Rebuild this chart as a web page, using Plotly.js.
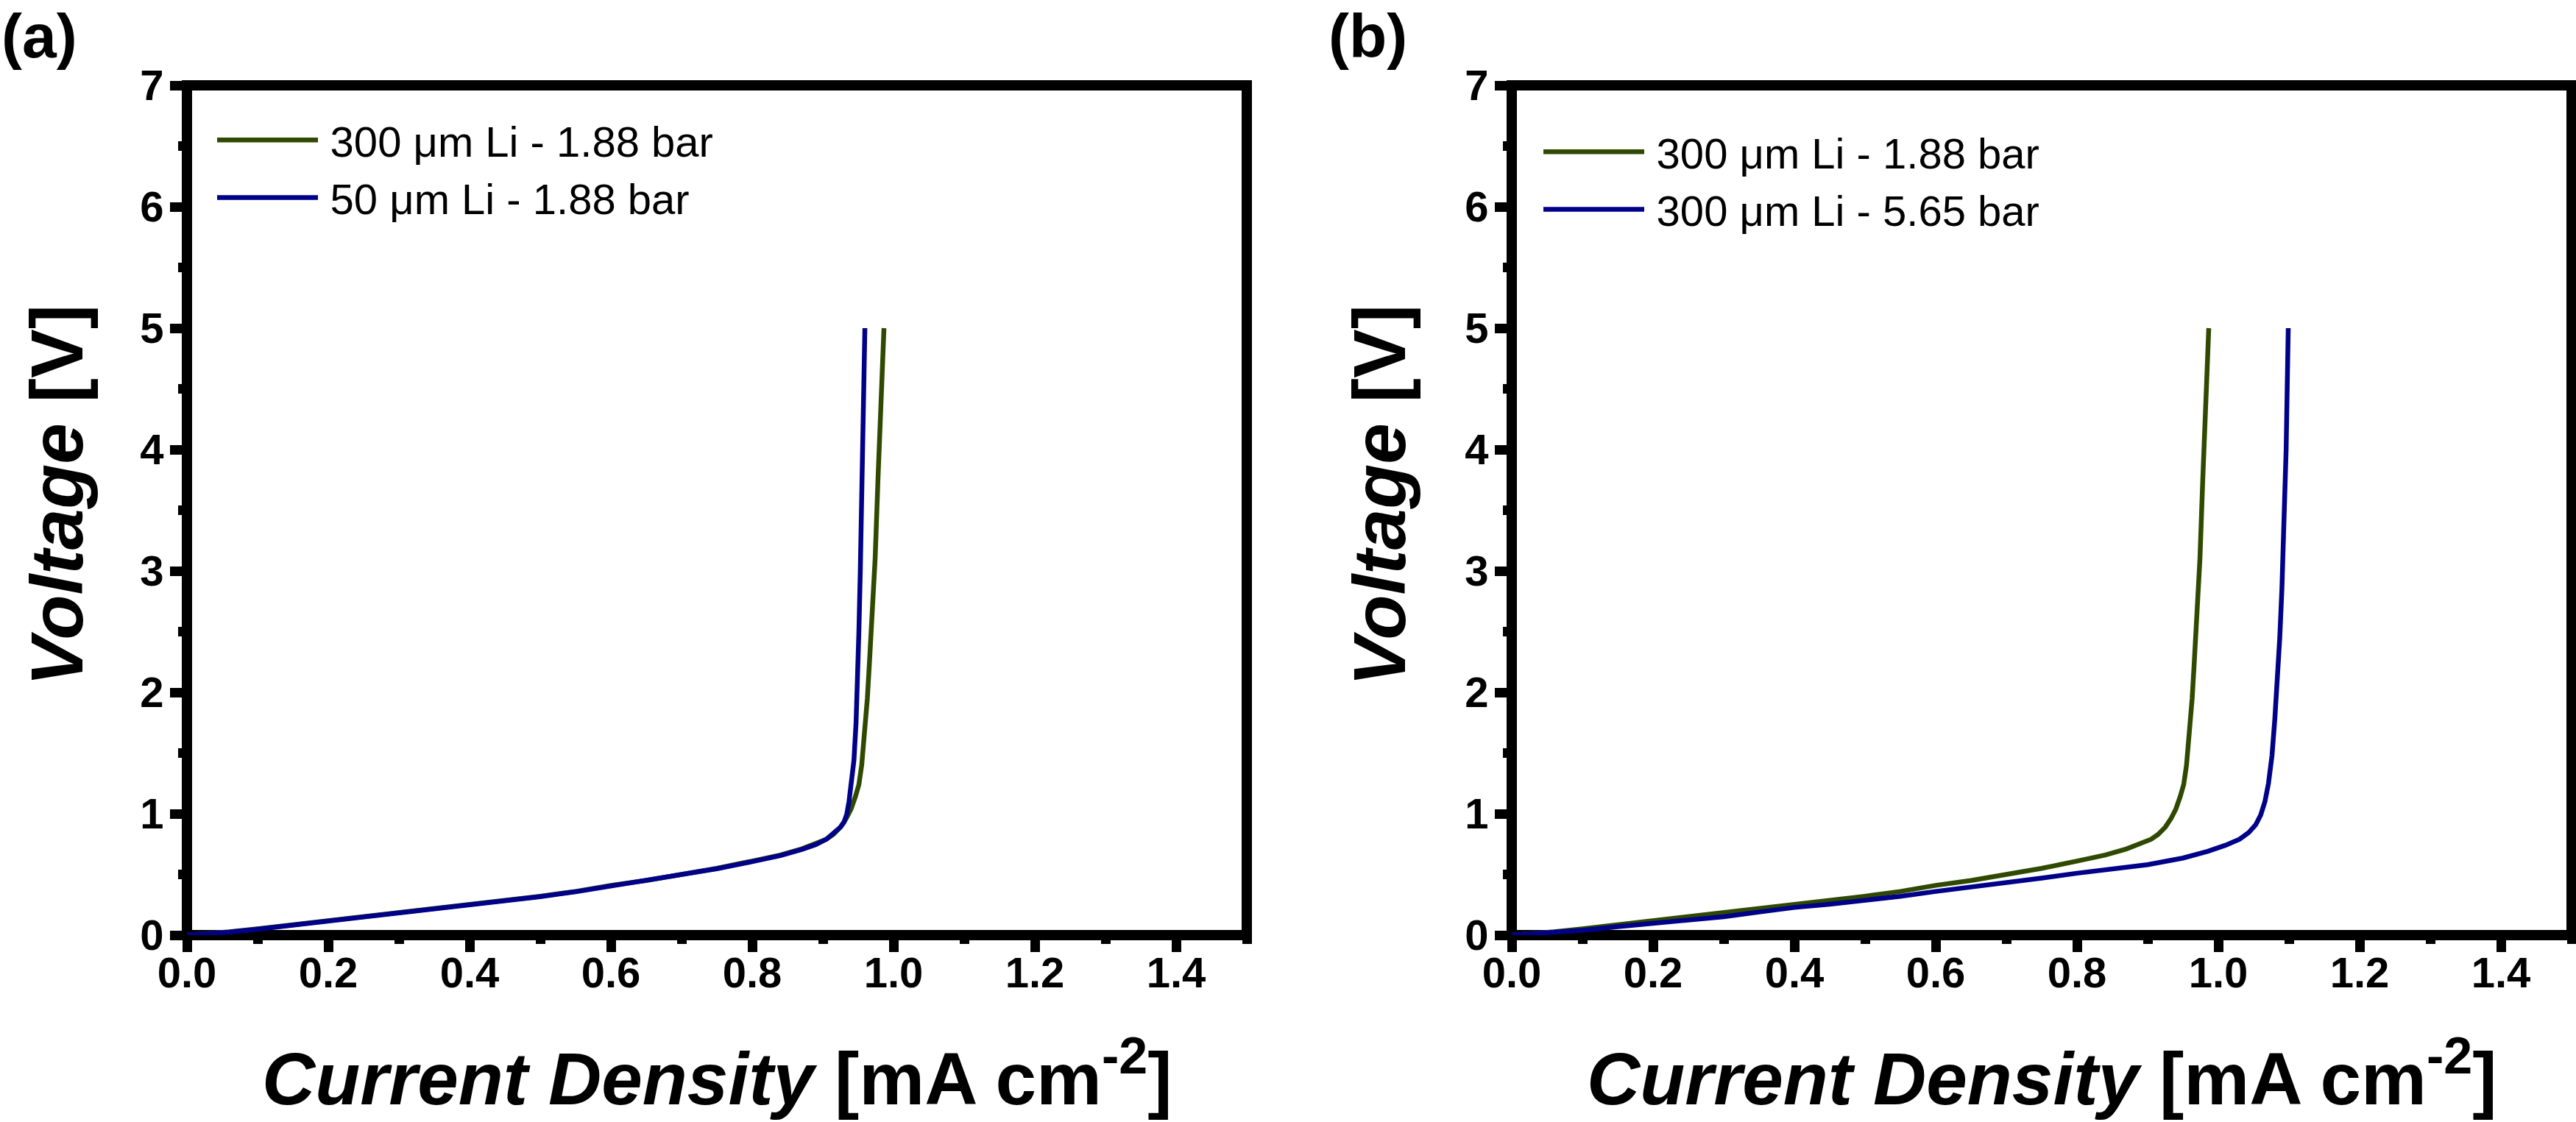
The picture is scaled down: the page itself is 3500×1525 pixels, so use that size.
<!DOCTYPE html>
<html>
<head>
<meta charset="utf-8">
<script src="https://cdn.plot.ly/plotly-3.0.1.min.js"></script>
<style>html,body{margin:0;padding:0;background:#fff;}</style>
</head>
<body>
<div id="chart" style="width:3500px;height:1525px;"></div>
<script>
// Linear sweep voltammetry: current density (mA cm^-2) vs. voltage (V)

// 300 µm Li at 1.88 bar (shown in both panels)
const j300_188 = [0, 0.03, 0.06, 0.10, 0.15, 0.20, 0.25, 0.30, 0.35, 0.40, 0.45, 0.50, 0.55, 0.60, 0.65, 0.70, 0.75, 0.80, 0.84, 0.87, 0.89, 0.905, 0.915, 0.925, 0.933, 0.940, 0.946, 0.951, 0.955, 0.959, 0.963, 0.966, 0.970, 0.974, 0.978, 0.982, 0.9865];
const v300_188 = [0, 0.012, 0.028, 0.052, 0.086, 0.117, 0.148, 0.180, 0.215, 0.250, 0.285, 0.320, 0.360, 0.410, 0.450, 0.500, 0.550, 0.610, 0.660, 0.710, 0.750, 0.790, 0.830, 0.890, 0.960, 1.04, 1.14, 1.24, 1.40, 1.64, 1.95, 2.25, 2.65, 3.10, 3.75, 4.35, 5.00];

// 50 µm Li at 1.88 bar
const j50_188 = [0, 0.03, 0.06, 0.10, 0.15, 0.20, 0.25, 0.30, 0.35, 0.40, 0.45, 0.50, 0.55, 0.60, 0.65, 0.70, 0.75, 0.80, 0.84, 0.87, 0.89, 0.905, 0.916, 0.925, 0.930, 0.934, 0.937, 0.941, 0.944, 0.947, 0.949, 0.951, 0.953, 0.955, 0.957, 0.9595];
const v50_188 = [0, 0.010, 0.025, 0.048, 0.082, 0.113, 0.145, 0.177, 0.212, 0.247, 0.282, 0.317, 0.357, 0.405, 0.447, 0.497, 0.547, 0.605, 0.655, 0.705, 0.745, 0.790, 0.840, 0.890, 0.930, 1.00, 1.10, 1.27, 1.44, 1.75, 2.05, 2.50, 3.00, 3.70, 4.35, 5.00];

// 300 µm Li at 5.65 bar
const j300_565 = [0, 0.03, 0.06, 0.10, 0.15, 0.20, 0.25, 0.30, 0.35, 0.40, 0.45, 0.50, 0.55, 0.60, 0.65, 0.70, 0.75, 0.80, 0.85, 0.90, 0.95, 0.985, 1.010, 1.030, 1.043, 1.053, 1.060, 1.066, 1.071, 1.076, 1.080, 1.084, 1.087, 1.090, 1.093, 1.096, 1.099];
const v300_565 = [0, 0.010, 0.022, 0.040, 0.070, 0.097, 0.125, 0.152, 0.190, 0.228, 0.255, 0.285, 0.320, 0.360, 0.395, 0.430, 0.470, 0.510, 0.545, 0.580, 0.635, 0.690, 0.740, 0.790, 0.845, 0.910, 0.990, 1.10, 1.25, 1.48, 1.78, 2.12, 2.45, 2.85, 3.35, 4.00, 5.00];

const legendA = ['300 \u03bcm Li - 1.88 bar', '50 \u03bcm Li - 1.88 bar'];
const legendB = ['300 \u03bcm Li - 1.88 bar', '300 \u03bcm Li - 5.65 bar'];

const xTicks = [0, 0.2, 0.4, 0.6, 0.8, 1.0, 1.2, 1.4];
const xTickText = ['0.0', '0.2', '0.4', '0.6', '0.8', '1.0', '1.2', '1.4'];
const yTicks = [0, 1, 2, 3, 4, 5, 6, 7];

const GREEN = '#2f4a00';
const BLUE = '#000088';
const W = 3500, H = 1525;
const FONT = 'Liberation Sans, Arial, Helvetica, sans-serif';

// plot-area pixel boxes of the two panels
const boxA = {l: 254, r: 1694, t: 116, b: 1271};
const boxB = {l: 2054, r: 3494, t: 116, b: 1271};

const xd = b => [b.l / W, b.r / W];
const yd = b => [(H - b.b) / H, (H - b.t) / H];

// a thin space keeps the legend text clear of its line sample
function line(x, y, name, color, xa, ya, legend) {
  return {x: x, y: y, name: '\u2009' + name, type: 'scatter', mode: 'lines',
          xaxis: xa, yaxis: ya, legend: legend,
          line: {color: color, width: 6.5}};
}

const traces = [
  line(j300_188, v300_188, legendA[0], GREEN, 'x', 'y', 'legend'),
  line(j50_188, v50_188, legendA[1], BLUE, 'x', 'y', 'legend'),
  line(j300_188, v300_188, legendB[0], GREEN, 'x2', 'y2', 'legend2'),
  line(j300_565, v300_565, legendB[1], BLUE, 'x2', 'y2', 'legend2')
];

const tickFont = {family: FONT, size: 58, color: '#000', weight: 'bold'};

function xAxis(box, anchor) {
  return {domain: xd(box), anchor: anchor, range: [0, 1.5],
          tickmode: 'array', tickvals: xTicks, ticktext: xTickText,
          ticks: 'outside', ticklen: 22, tickwidth: 13, tickcolor: '#000',
          minor: {dtick: 0.1, tick0: 0, ticks: 'outside', ticklen: 11, tickwidth: 13, tickcolor: '#000', showgrid: false},
          showline: false, zeroline: false, showgrid: false,
          tickfont: tickFont, ticklabelstandoff: -22, fixedrange: true};
}
function yAxis(box, anchor) {
  return {domain: yd(box), anchor: anchor, range: [0, 7],
          tickmode: 'array', tickvals: yTicks,
          ticks: 'outside', ticklen: 22, tickwidth: 13, tickcolor: '#000',
          minor: {dtick: 0.5, tick0: 0, ticks: 'outside', ticklen: 11, tickwidth: 13, tickcolor: '#000', showgrid: false},
          showline: false, zeroline: false, showgrid: false,
          tickfont: tickFont, ticklabelstandoff: -3, fixedrange: true};
}

function frame(xa, ya) {
  return {type: 'rect', xref: xa + ' domain', yref: ya + ' domain',
          x0: 0, x1: 1, y0: 0, y1: 1, line: {color: '#000', width: 14}, layer: 'below'};
}

const xTitle = '<b><i>Current Density</i> [mA cm<sup>-2</sup>]</b>';
const yTitle = '<b><i>Voltage</i> [V]</b>';

function ann(text, x, y, opts) {
  return Object.assign({text: text, xref: 'paper', yref: 'paper', x: x / W, y: 1 - y / H,
                        showarrow: false, font: {family: FONT, size: 100, color: '#000'}}, opts);
}

const annotations = [
  ann(xTitle, (boxA.l + boxA.r) / 2, H - 1, {xanchor: 'center', yanchor: 'bottom'}),
  ann(xTitle, (boxB.l + boxB.r) / 2, H - 1, {xanchor: 'center', yanchor: 'bottom'}),
  ann(yTitle, 77, (boxA.t + boxA.b) / 2 - 20, {xanchor: 'center', yanchor: 'middle', textangle: -90}),
  ann(yTitle, 1874, (boxB.t + boxB.b) / 2 - 20, {xanchor: 'center', yanchor: 'middle', textangle: -90}),
  ann('<b>(a)</b>', 0, 0, {xanchor: 'left', yanchor: 'top', font: {family: FONT, size: 84, color: '#000'}}),
  ann('<b>(b)</b>', 1803, 0, {xanchor: 'left', yanchor: 'top', font: {family: FONT, size: 84, color: '#000'}})
];

const legendStyle = {xanchor: 'left', yanchor: 'top', bgcolor: 'rgba(0,0,0,0)', borderwidth: 0,
                     font: {family: FONT, size: 58, color: '#000'}, itemwidth: 137,
                     tracegroupgap: 0, itemclick: false, itemdoubleclick: false};

const layout = {
  width: W, height: H,
  margin: {l: 0, r: 0, t: 0, b: 0},
  paper_bgcolor: '#fff', plot_bgcolor: '#fff',
  showlegend: true,
  legend: Object.assign({x: 290 / W, y: 1 - 146 / H}, legendStyle),
  legend2: Object.assign({x: 2092 / W, y: 1 - 162 / H}, legendStyle),
  xaxis: xAxis(boxA, 'y'), yaxis: yAxis(boxA, 'x'),
  xaxis2: xAxis(boxB, 'y2'), yaxis2: yAxis(boxB, 'x2'),
  shapes: [frame('x', 'y'), frame('x2', 'y2')],
  annotations: annotations
};

Plotly.newPlot('chart', traces, layout, {staticPlot: true, displayModeBar: false});
</script>
</body>
</html>
